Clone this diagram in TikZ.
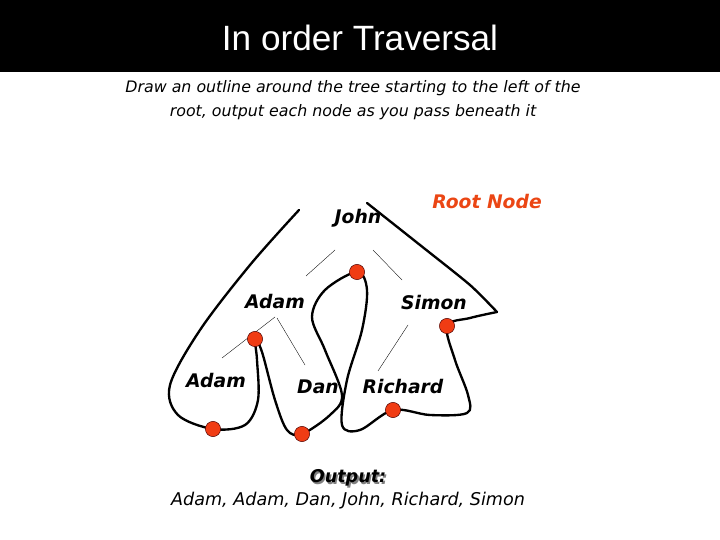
\documentclass[tikz,border=0pt]{standalone}
\usepackage{fontspec}
\setmainfont{DejaVu Sans}
\newfontfamily\arialfont{Liberation Sans}
\usetikzlibrary{calc}
\definecolor{dotred}{RGB}{240,60,20}
\definecolor{rootred}{RGB}{235,70,20}
\begin{document}
\begin{tikzpicture}[x=0.03cm, y=-0.03cm]
    \tikzstyle{label} = [
      anchor=center,
      font=\fontsize{16}{18}\selectfont\bfseries\itshape,
    ]
    \tikzstyle{edge} = [
      draw=black,
      line width=0.3pt,
    ]
    \tikzstyle{dot} = [
      circle,
      fill=dotred,
      draw=black!70!red,
      line width=0.4pt,
      minimum size=13pt,
      inner sep=0pt,
    ]
    \tikzstyle{outline} = [
      draw=black,
      line width=2pt,
    ]

    \useasboundingbox (0,0) rectangle (720,540);

    % title bar
    {
      \fill[black] (0,0) rectangle (720,72);
      \node[text=white, font=\arialfont\fontsize{30}{32}\selectfont] (title) at (360,38) {In order Traversal};
    }

    % description
    {
      \node[align=center, font=\fontsize{13.5}{20.5}\selectfont\itshape] (desc) at (353,100)
        {Draw an outline around the tree starting to the left of the\\root, output each node as you pass beneath it};
    }

    % tree labels
    {
      \node[label] (john) at (358,218) {John};
      \node[label, text=rootred] (rootLabel) at (487,202) {Root Node};
      \node[label] (adam) at (275,302) {Adam};
      \node[label] (simon) at (434,303) {Simon};
      \node[label] (adamLeaf) at (216,381) {Adam};
      \node[label] (dan) at (318,387) {Dan};
      \node[label] (richard) at (403,387) {Richard};
    }

    % tree edges
    {
      \coordinate (eJA1) at (335,250); \coordinate (eJA2) at (306,276);
      \coordinate (eJS1) at (373,250); \coordinate (eJS2) at (402,280);
      \coordinate (eAA1) at (275,317); \coordinate (eAA2) at (222,358);
      \coordinate (eAD1) at (277,318); \coordinate (eAD2) at (305,365);
      \coordinate (eSR1) at (408,325); \coordinate (eSR2) at (378,371);
      \draw[edge] (eJA1) -- (eJA2);
      \draw[edge] (eJS1) -- (eJS2);
      \draw[edge] (eAA1) -- (eAA2);
      \draw[edge] (eAD1) -- (eAD2);
      \draw[edge] (eSR1) -- (eSR2);
    }

    % outline
    {
      \draw[outline, line cap=round, line join=round] plot[smooth, tension=0.55] coordinates {
        (299,210) (250,265) (200,330) (170,385) (178,415) (213,429) (245,425)
        (258,400) (257,360) (255,339) (262,352) (275,400) (287,430) (302,434)
        (330,415) (342,395) (325,350) (312,317) (325,290) (357,272) (367,290)
        (362,330) (347,380) (342,425) (360,430) (393,410) (430,415) (467,413)
        (468,395) (455,360) (447,326) (470,318) (497,312)};
      \draw[outline, line cap=round] plot[smooth, tension=0.4] coordinates {
        (497,312) (470,285) (420,245) (367,203)};
    }

    % dots
    {
      \node[dot] (dotJohn) at (357,272) {};
      \node[dot] (dotAdam) at (255,339) {};
      \node[dot] (dotSimon) at (447,326) {};
      \node[dot] (dotAdamLeaf) at (213,429) {};
      \node[dot] (dotDan) at (302,434) {};
      \node[dot] (dotRichard) at (393,410) {};
    }

    % output
    {
      \node[font=\fontsize{15}{17}\selectfont\bfseries\itshape, text=black!50] at (349.6,479.6) {Output:};
      \node[font=\fontsize{15}{17}\selectfont\bfseries\itshape] (outTitle) at (348,478) {Output:};
      \node[font=\fontsize{15}{17}\selectfont\itshape] (outList) at (348,501) {Adam, Adam, Dan, John, Richard, Simon};
    }
\end{tikzpicture}
\end{document}
